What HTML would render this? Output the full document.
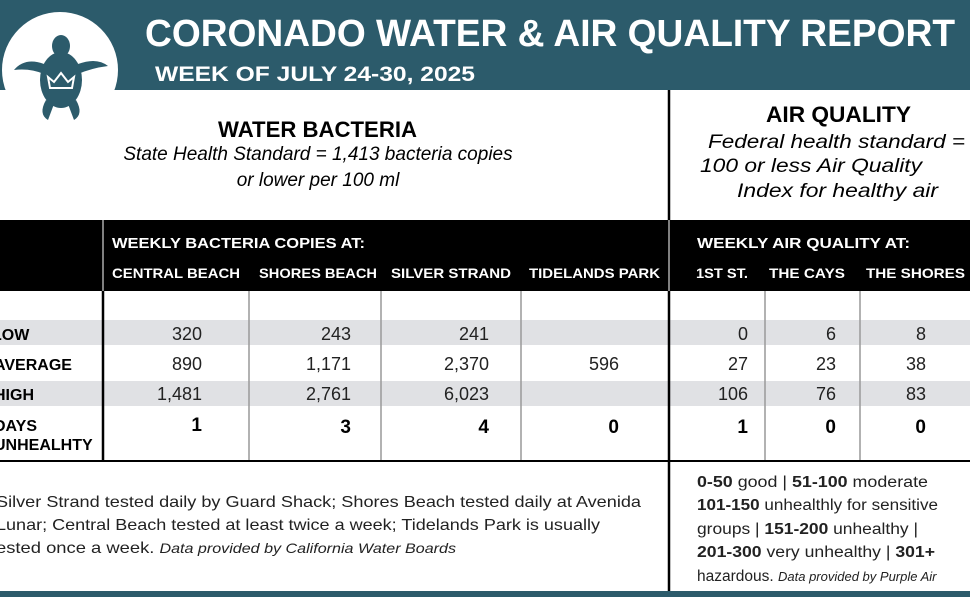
<!DOCTYPE html>
<html><head><style>body{margin:0;background:#fff}svg{display:block}</style></head><body>
<svg width="970" height="597" viewBox="0 0 970 597" xmlns="http://www.w3.org/2000/svg" font-family="Liberation Sans, sans-serif">
<rect x="0" y="0" width="970" height="90" fill="#2c5b6b"/>
<rect x="0" y="591" width="970" height="6" fill="#2c5b6b"/>
<circle cx="60" cy="70" r="58" fill="#fff"/>
<g fill="#2c5b6b">
<ellipse cx="61" cy="80" rx="21" ry="28"/>
<ellipse cx="61" cy="46" rx="9" ry="11"/>
<path d="M44,64 Q25,57 14,70 Q30,68 44,74Z"/>
<path d="M78,64 Q97,57 108,66 Q92,68 78,74Z"/>
<path d="M46,100 Q38,114 48,120 L54,104Z"/>
<path d="M76,100 Q84,114 74,120 L68,104Z"/>
</g>
<path d="M50,88 L48,77 L54,82 L61,73 L68,82 L74,77 L72,88Z" fill="none" stroke="#fff" stroke-width="2"/>
<text x="145" y="46" font-size="38" font-weight="bold" fill="#fff" textLength="810" lengthAdjust="spacingAndGlyphs">CORONADO WATER &amp; AIR QUALITY REPORT</text>
<text x="155" y="81" font-size="21" font-weight="bold" fill="#fff" textLength="320" lengthAdjust="spacingAndGlyphs">WEEK OF JULY 24-30, 2025</text>
<text x="218" y="137" font-size="22" font-weight="bold" textLength="199" lengthAdjust="spacingAndGlyphs">WATER BACTERIA</text>
<text x="318" y="160" font-size="19" font-style="italic" text-anchor="middle">State Health Standard  = 1,413 bacteria copies</text>
<text x="318" y="186" font-size="19" font-style="italic" text-anchor="middle">or lower per 100 ml</text>
<text x="766" y="122" font-size="22" font-weight="bold" textLength="145" lengthAdjust="spacingAndGlyphs">AIR QUALITY</text>
<text x="708" y="148" font-size="19" font-style="italic" textLength="257" lengthAdjust="spacingAndGlyphs">Federal health standard =</text>
<text x="700" y="172" font-size="19" font-style="italic" textLength="222" lengthAdjust="spacingAndGlyphs">100 or less Air Quality</text>
<text x="737" y="197" font-size="19" font-style="italic" textLength="201" lengthAdjust="spacingAndGlyphs">Index for healthy air</text>
<rect x="0" y="220" width="970" height="71" fill="#000"/>
<rect x="0" y="320" width="970" height="25" fill="#e0e1e4"/>
<rect x="0" y="381" width="970" height="25" fill="#e0e1e4"/>
<g stroke="#999" stroke-width="1.5">
<line x1="249" y1="291" x2="249" y2="461"/><line x1="381" y1="291" x2="381" y2="461"/><line x1="521" y1="291" x2="521" y2="461"/>
<line x1="765" y1="291" x2="765" y2="461"/><line x1="860" y1="291" x2="860" y2="461"/>
</g>
<line x1="669" y1="90" x2="669" y2="591" stroke="#000" stroke-width="2.5"/>
<line x1="103" y1="220" x2="103" y2="461" stroke="#000" stroke-width="2.5"/>
<line x1="103" y1="220" x2="103" y2="291" stroke="#fff" stroke-width="1"/>
<line x1="669" y1="220" x2="669" y2="291" stroke="#fff" stroke-width="1"/>
<line x1="0" y1="461" x2="970" y2="461" stroke="#000" stroke-width="2"/>
<g fill="#fff" font-weight="bold">
<text x="112" y="248" font-size="15" textLength="253" lengthAdjust="spacingAndGlyphs">WEEKLY BACTERIA COPIES AT:</text>
<text x="697" y="248" font-size="15" textLength="213" lengthAdjust="spacingAndGlyphs">WEEKLY AIR QUALITY AT:</text>
<g font-size="14">
<text x="112" y="278" textLength="128" lengthAdjust="spacingAndGlyphs">CENTRAL BEACH</text>
<text x="259" y="278" textLength="118" lengthAdjust="spacingAndGlyphs">SHORES BEACH</text>
<text x="391" y="278" textLength="120" lengthAdjust="spacingAndGlyphs">SILVER STRAND</text>
<text x="529" y="278" textLength="131" lengthAdjust="spacingAndGlyphs">TIDELANDS PARK</text>
<text x="696" y="278" textLength="52" lengthAdjust="spacingAndGlyphs">1ST ST.</text>
<text x="769" y="278" textLength="76" lengthAdjust="spacingAndGlyphs">THE CAYS</text>
<text x="866" y="278" textLength="99" lengthAdjust="spacingAndGlyphs">THE SHORES</text>
</g></g>
<g font-size="16" font-weight="bold">
<text x="-8" y="340">LOW</text><text x="-6" y="370">AVERAGE</text><text x="-6" y="400">HIGH</text>
<text x="-6" y="431">DAYS</text><text x="-6" y="450">UNHEALHTY</text>
</g>
<g font-size="18" text-anchor="end" fill="#222">
<text x="202" y="340">320</text><text x="351" y="340">243</text><text x="489" y="340">241</text>
<text x="748" y="340">0</text><text x="836" y="340">6</text><text x="926" y="340">8</text>
<text x="202" y="370">890</text><text x="351" y="370">1,171</text><text x="489" y="370">2,370</text><text x="619" y="370">596</text>
<text x="748" y="370">27</text><text x="836" y="370">23</text><text x="926" y="370">38</text>
<text x="202" y="400">1,481</text><text x="351" y="400">2,761</text><text x="489" y="400">6,023</text>
<text x="748" y="400">106</text><text x="836" y="400">76</text><text x="926" y="400">83</text>
</g>
<g font-size="19" font-weight="bold" text-anchor="end">
<text x="202" y="431">1</text><text x="351" y="433">3</text><text x="489" y="433">4</text><text x="619" y="433">0</text>
<text x="748" y="433">1</text><text x="836" y="433">0</text><text x="926" y="433">0</text>
</g>
<g font-size="16" fill="#222">
<text x="-4" y="507" textLength="645" lengthAdjust="spacingAndGlyphs">Silver Strand tested daily by Guard Shack; Shores Beach tested daily at Avenida</text>
<text x="-4" y="530" textLength="604" lengthAdjust="spacingAndGlyphs">Lunar; Central Beach tested at least twice a week; Tidelands Park is usually</text>
<text x="-4" y="553" textLength="460" lengthAdjust="spacingAndGlyphs">ested once a week. <tspan font-style="italic" font-size="14">Data provided by California Water Boards</tspan></text>
</g>
<g font-size="15.5" fill="#222">
<text x="697" y="487" textLength="231" lengthAdjust="spacingAndGlyphs"><tspan font-weight="bold">0-50</tspan> good | <tspan font-weight="bold">51-100</tspan> moderate</text>
<text x="697" y="510" textLength="241" lengthAdjust="spacingAndGlyphs"><tspan font-weight="bold">101-150</tspan> unhealthly for sensitive</text>
<text x="697" y="534" textLength="221" lengthAdjust="spacingAndGlyphs">groups | <tspan font-weight="bold">151-200</tspan> unhealthy |</text>
<text x="697" y="557" textLength="238" lengthAdjust="spacingAndGlyphs"><tspan font-weight="bold">201-300</tspan> very unhealthy | <tspan font-weight="bold">301+</tspan></text>
<text x="697" y="581">hazardous. <tspan font-style="italic" font-size="13">Data provided by Purple Air</tspan></text>
</g>
</svg>
</body></html>
